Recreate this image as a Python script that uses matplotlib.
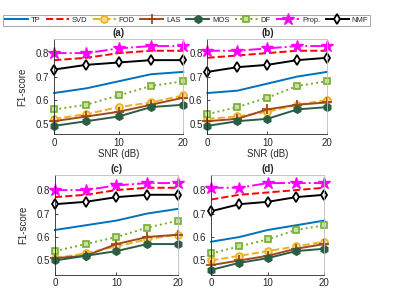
import numpy as np
import matplotlib
matplotlib.use('Agg')
import matplotlib.pyplot as plt

plt.rcParams['font.family'] = ['Liberation Sans', 'DejaVu Sans']

snr = [0, 5, 10, 15, 20]
methods = ['TP', 'SVD', 'FOD', 'LAS', 'MOS', 'DF', 'Prop.', 'NMF']

# F1-scores per panel, order as in methods
data_a = {
    'TP':    [0.63, 0.65, 0.68, 0.71, 0.72],
    'SVD':   [0.77, 0.78, 0.80, 0.81, 0.81],
    'FOD':   [0.52, 0.54, 0.57, 0.59, 0.62],
    'LAS':   [0.51, 0.53, 0.55, 0.58, 0.61],
    'MOS':   [0.49, 0.51, 0.53, 0.57, 0.58],
    'DF':    [0.56, 0.58, 0.62, 0.66, 0.68],
    'Prop.': [0.80, 0.80, 0.82, 0.83, 0.83],
    'NMF':   [0.73, 0.75, 0.76, 0.77, 0.77],
}
data_b = {
    'TP':    [0.63, 0.64, 0.67, 0.70, 0.72],
    'SVD':   [0.78, 0.79, 0.80, 0.81, 0.81],
    'FOD':   [0.52, 0.53, 0.55, 0.58, 0.60],
    'LAS':   [0.51, 0.52, 0.56, 0.58, 0.59],
    'MOS':   [0.49, 0.51, 0.52, 0.56, 0.57],
    'DF':    [0.54, 0.57, 0.61, 0.66, 0.68],
    'Prop.': [0.81, 0.81, 0.82, 0.83, 0.83],
    'NMF':   [0.72, 0.74, 0.75, 0.77, 0.78],
}
data_c = {
    'TP':    [0.63, 0.65, 0.67, 0.70, 0.72],
    'SVD':   [0.77, 0.78, 0.80, 0.81, 0.81],
    'FOD':   [0.51, 0.53, 0.56, 0.59, 0.61],
    'LAS':   [0.51, 0.52, 0.57, 0.60, 0.61],
    'MOS':   [0.50, 0.52, 0.54, 0.57, 0.57],
    'DF':    [0.54, 0.57, 0.60, 0.64, 0.67],
    'Prop.': [0.80, 0.80, 0.82, 0.83, 0.83],
    'NMF':   [0.74, 0.75, 0.77, 0.78, 0.78],
}
data_d = {
    'TP':    [0.58, 0.60, 0.63, 0.65, 0.67],
    'SVD':   [0.76, 0.78, 0.79, 0.80, 0.81],
    'FOD':   [0.50, 0.52, 0.54, 0.56, 0.58],
    'LAS':   [0.48, 0.50, 0.52, 0.55, 0.57],
    'MOS':   [0.46, 0.49, 0.51, 0.54, 0.55],
    'DF':    [0.53, 0.56, 0.59, 0.63, 0.65],
    'Prop.': [0.81, 0.81, 0.83, 0.83, 0.83],
    'NMF':   [0.71, 0.74, 0.75, 0.77, 0.78],
}

styles = {
    'TP':    dict(color='#0072BD', ls='-'),
    'SVD':   dict(color='#FF0000', ls='--'),
    'FOD':   dict(color='#EDB120', ls='--', marker='o', ms=5, mfc='#F6D98F', mew=1.2),
    'LAS':   dict(color='#A2481F', ls='-', marker='+', ms=7, mew=1.3),
    'MOS':   dict(color='#2A5E43', ls='-', marker='h', ms=5.5, mfc='#2A5E43', mew=1),
    'DF':    dict(color='#77AC30', ls=':', marker='s', ms=4.5, mfc='#C8E0A0', mew=1.2),
    'Prop.': dict(color='#FF00FF', ls='-.', marker='*', ms=9, mfc='#FF00FF'),
    'NMF':   dict(color='black', ls='-', marker='d', ms=5, mfc='white', mew=1.3),
}

fig = plt.figure(figsize=(4.1, 2.89), dpi=100)
panels = [
    ('(a)', data_a, [0.132, 0.536, 0.315, 0.329], (0.455, 0.86), True, True),
    ('(b)', data_b, [0.506, 0.536, 0.292, 0.329], (0.455, 0.86), False, True),
    ('(c)', data_c, [0.134, 0.05, 0.300, 0.345], (0.44, 0.865), True, False),
    ('(d)', data_d, [0.515, 0.05, 0.276, 0.345], (0.44, 0.865), False, False),
]

gray = '#262626'
handles = []
for title, data, rect, ylim, ylab, xlab in panels:
    ax = fig.add_axes(rect)
    for m in methods:
        h, = ax.plot(snr, data[m], lw=1.4, label=m, clip_on=False, **styles[m])
        if title == '(a)':
            handles.append(h)
    ax.set_xlim(0, 20)
    ax.set_ylim(*ylim)
    ax.set_xticks([0, 10, 20])
    ax.set_yticks([0.5, 0.6, 0.7, 0.8])
    ax.set_yticklabels(['0.5', '0.6', '0.7', '0.8'])
    ax.tick_params(direction='in', labelsize=7, colors=gray, length=2.5, width=0.6,
                   top=False, right=False)
    ax.tick_params(axis='x', pad=2.5)
    for s in ax.spines.values():
        s.set_color('#bdbdbd')
        s.set_linewidth(0.6)
    ax.spines['left'].set_color(gray)
    ax.spines['bottom'].set_color(gray)
    ax.set_title(title, fontsize=7, fontweight='bold', color=gray, pad=2)
    if ylab:
        ax.set_ylabel('F1-score', fontsize=7, color=gray, labelpad=6)
    if xlab:
        ax.set_xlabel('SNR (dB)', fontsize=7, color=gray, labelpad=1)

leg = fig.legend(handles=handles, labels=methods, loc='lower left',
                 bbox_to_anchor=(0.007, 0.91, 0.896, 0.045), mode='expand',
                 ncol=8, fontsize=5.5, frameon=True, fancybox=False,
                 handlelength=3.0, handletextpad=0.4, columnspacing=0.6,
                 borderpad=0.25, borderaxespad=0, labelcolor=gray)
leg.get_frame().set_edgecolor('#7f7f7f')
leg.get_frame().set_linewidth(0.6)

fig.savefig('out.png', dpi=100)
